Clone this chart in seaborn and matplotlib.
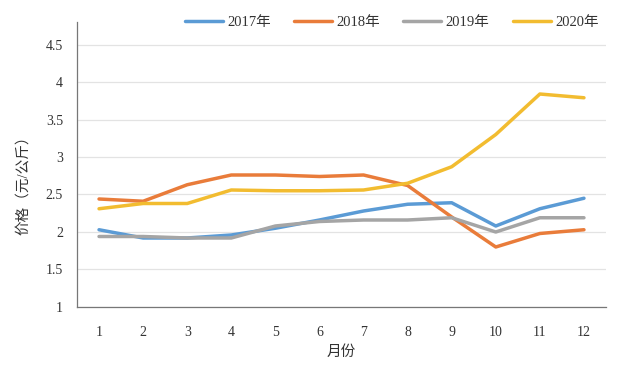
import matplotlib
matplotlib.use("Agg")
import matplotlib.pyplot as plt
import numpy as np
import pandas as pd
import seaborn as sns

months = list(range(1, 13))
years = ["2017年", "2018年", "2019年", "2020年"]
price_2017 = [2.03, 1.92, 1.92, 1.96, 2.05, 2.16, 2.28, 2.37, 2.39, 2.08, 2.31, 2.45]
price_2018 = [2.44, 2.41, 2.63, 2.76, 2.76, 2.74, 2.76, 2.62, 2.20, 1.80, 1.98, 2.03]
price_2019 = [1.94, 1.94, 1.92, 1.92, 2.08, 2.14, 2.16, 2.16, 2.19, 2.00, 2.19, 2.19]
price_2020 = [2.31, 2.38, 2.38, 2.56, 2.55, 2.55, 2.56, 2.65, 2.87, 3.30, 3.84, 3.79]
colors = ["#5B9BD5", "#E97C3A", "#A5A5A5", "#F2BC30"]

sns.set_style("white")
plt.rcParams["font.family"] = ["Liberation Serif", "Noto Sans CJK SC"]

data = pd.DataFrame({
    "月份": months * 4,
    "价格": price_2017 + price_2018 + price_2019 + price_2020,
    "年份": [y for y in years for _ in months],
})

fig = plt.figure(figsize=(6.27, 3.7), dpi=100)
ax = fig.add_axes([0.1228, 0.1703, 0.8437, 0.7702])

sns.lineplot(data=data, x="月份", y="价格", hue="年份", palette=colors,
             linewidth=2.5, ax=ax, legend=True)

ax.set_xlim(0.5, 12.5)
ax.set_ylim(1, 4.8)
ax.set_yticks([1, 1.5, 2, 2.5, 3, 3.5, 4, 4.5])
ax.set_yticklabels(["1", "1.5", "2", "2.5", "3", "3.5", "4", "4.5"])
ax.set_xticks(months)
ax.set_xticks(np.arange(0.5, 13, 1), minor=True)
ax.tick_params(axis="x", which="major", length=0, pad=14, labelsize=10, colors="#333333")
ax.tick_params(axis="x", which="minor", length=5, direction="inout", width=0.8, color="#777777")
ax.tick_params(axis="y", length=0, pad=10, labelsize=10, colors="#333333")

ax.grid(axis="y", color="#e3e3e3", linewidth=0.9)
ax.set_axisbelow(True)
for side in ["top", "right"]:
    ax.spines[side].set_visible(False)
ax.spines["left"].set_color("#777777")
ax.spines["bottom"].set_color("#777777")
ax.spines["left"].set_linewidth(0.9)
ax.spines["bottom"].set_linewidth(0.9)

ax.set_xlabel("月份", fontsize=10.5, color="#333333", labelpad=4)
ax.set_ylabel("价格（元/公斤）", fontsize=10.5, color="#333333")
ax.yaxis.set_label_coords(-0.088, 0.44)

handles, labels = ax.get_legend_handles_labels()
ax.legend(handles, labels, ncol=4, frameon=False, loc="center",
          bbox_to_anchor=(0.595, 1.0), fontsize=10.5, handlelength=2.6,
          handletextpad=0.3, columnspacing=1.6, labelcolor="#333333")

fig.savefig("out.png", dpi=100)
